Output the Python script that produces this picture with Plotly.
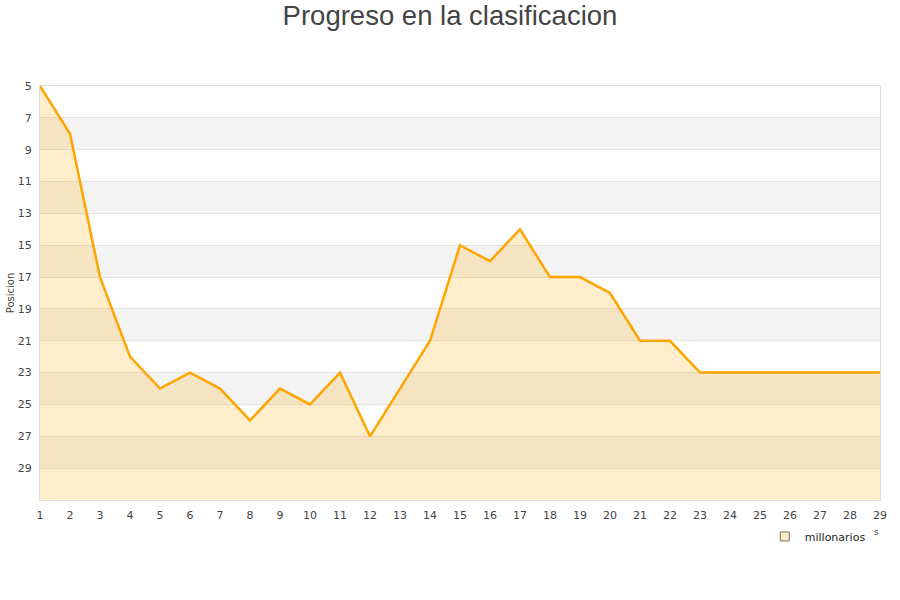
import plotly.graph_objects as go

jornadas = list(range(1, 30))
posicion = [5, 8, 17, 22, 24, 23, 24, 26, 24, 25, 23, 27, 24, 21, 15, 16, 14, 17, 17, 18,
            21, 21, 23, 23, 23, 23, 23, 23, 23]
y_ticks = list(range(5, 30, 2))
y_min, y_max = 5, 31

fig = go.Figure()

# baseline for area fill (bottom of axis)
fig.add_trace(go.Scatter(x=jornadas, y=[y_max] * len(jornadas), mode="lines",
                         line=dict(width=0), showlegend=False, hoverinfo="skip"))
fig.add_trace(go.Scatter(x=jornadas, y=posicion, mode="lines", name="millonarios",
                         fill="tonexty", fillcolor="rgba(255,165,0,0.2)",
                         line=dict(color="#FFA500", width=2.5), showlegend=False))
# legend entry with square symbol
fig.add_trace(go.Scatter(x=[None], y=[None], mode="markers", name="millonarios",
                         marker=dict(symbol="square", size=9, color="#FFEDCC",
                                     line=dict(color="#7a6e55", width=1))))

# alternating bands
shapes = []
for i, t in enumerate(range(y_min, y_max, 2)):
    if i % 2 == 1:
        shapes.append(dict(type="rect", xref="paper", yref="y", x0=0, x1=1, y0=t, y1=t + 2,
                           fillcolor="#F3F3F3", line=dict(width=0), layer="below"))

fig.update_layout(
    width=900, height=600,
    margin=dict(l=40, r=20, t=86, b=100, autoexpand=False),
    paper_bgcolor="white", plot_bgcolor="white",
    font=dict(family="DejaVu Sans, Liberation Sans, sans-serif", color="#444", size=11),
    title=dict(text="Progreso en la clasificacion", x=0.5, xanchor="center",
               yref="container", y=0.975, yanchor="middle",
               font=dict(family="Liberation Sans, Arial, sans-serif", size=27.5, color="#444")),
    shapes=shapes,
    xaxis=dict(range=[1, 29], tickmode="array", tickvals=jornadas, showgrid=False,
               showline=True, linecolor="#DDDDDD", mirror=True, zeroline=False,
               ticks="", tickfont=dict(size=11, color="#444"), automargin=False,
               ticklabelstandoff=5),
    yaxis=dict(range=[y_max, y_min], tickmode="array", tickvals=y_ticks, showgrid=True,
               gridcolor="#E2E2E2", showline=True, linecolor="#DDDDDD", mirror=True,
               zeroline=False, ticks="", tickfont=dict(size=11, color="#444"), automargin=False,
               ticklabelstandoff=5,
               title=dict(text="Posicion", font=dict(size=10, color="#444"), standoff=1)),
    legend=dict(orientation="h", x=0.989, xanchor="right", y=-0.053, yanchor="top",
                font=dict(size=11, color="#222"), bgcolor="rgba(0,0,0,0)"),
    annotations=[dict(text="s", xref="paper", yref="paper", x=0.996, y=-0.06, xanchor="center",
                      yanchor="top", showarrow=False, font=dict(size=9, color="#444"))],
)

fig.write_html("out.html", config={"displayModeBar": False},
               post_script="document.body.style.margin='0';")
